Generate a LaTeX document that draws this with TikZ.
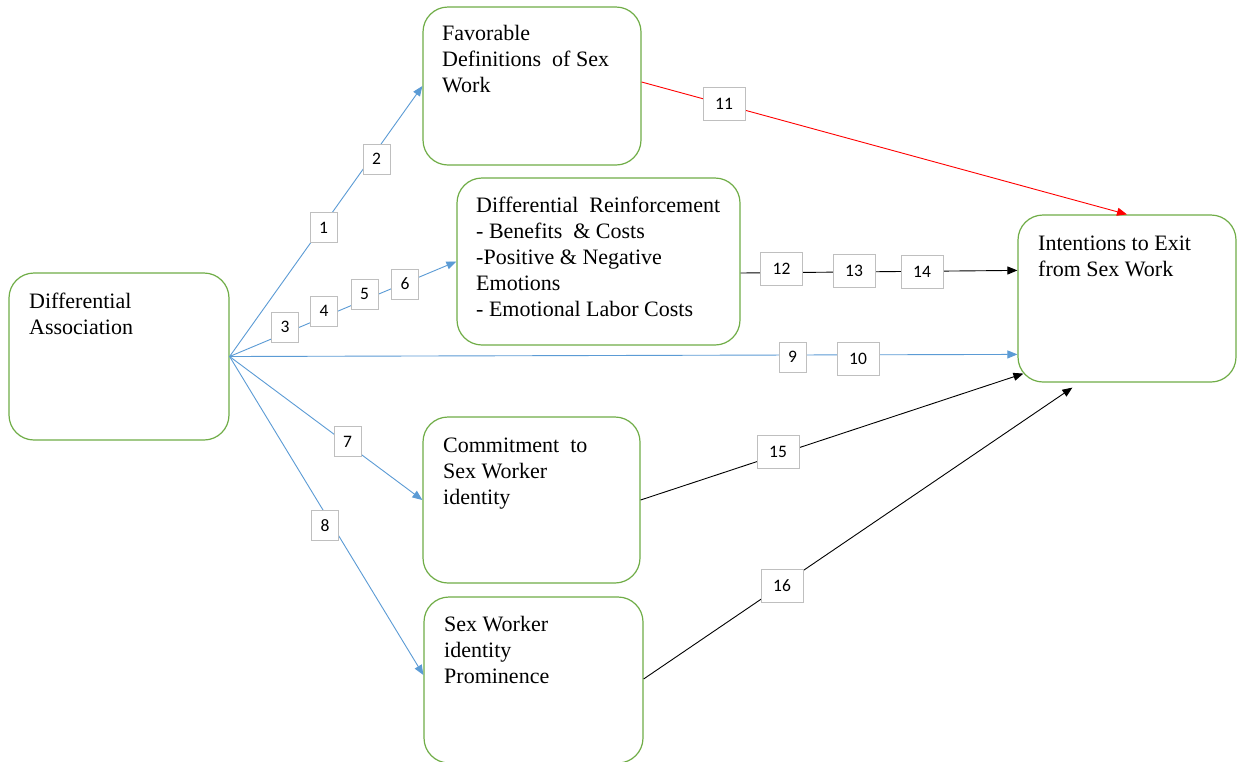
\documentclass[tikz,border=0pt]{standalone}
\usepackage{fontspec}
\setmainfont{Liberation Serif}
\newfontfamily\labfont{Carlito}
\usetikzlibrary{arrows.meta,calc}
\definecolor{boxgreen}{RGB}{112,173,71}
\definecolor{lineblue}{RGB}{91,155,213}
\definecolor{labgray}{RGB}{191,191,191}
\begin{document}
\begin{tikzpicture}[x=1pt,y=-1pt,
  box/.style={draw=boxgreen, line width=1.2pt, rounded corners=25pt, fill=white, inner sep=0pt},
  txt/.style={anchor=north west, inner sep=0pt, align=left, font=\rmfamily\fontsize{22}{26}\selectfont},
  lab/.style={draw=labgray, line width=1pt, fill=white, inner sep=0pt, minimum width=27pt, minimum height=30pt, font=\labfont\fontsize{17.5}{18}\selectfont},
  labw/.style={lab, minimum width=42pt, minimum height=33pt},
  conn/.style={line width=0.9pt, -{Triangle[length=10pt,width=8pt]}}]
\useasboundingbox[fill=white] (0,0) rectangle (1245,761);

% boxes
\node[box, minimum width=220pt, minimum height=167pt] (da) at (119,356.5) {};
\node[box, minimum width=218pt, minimum height=158pt] (fd) at (532,86) {};
\node[box, minimum width=283pt, minimum height=167pt] (dr) at (598.5,261.5) {};
\node[box, minimum width=218pt, minimum height=167pt] (ie) at (1127,298.5) {};
\node[box, minimum width=217pt, minimum height=166pt] (cs) at (531.5,500) {};
\node[box, minimum width=219pt, minimum height=166pt] (sp) at (533.5,680) {};

% texts
\node[txt] (dat) at (29,289.8) {\strut Differential\\Association};
\node[txt] (fdt) at (442,21.8) {\strut Favorable\\Definitions\ \ of Sex\\Work};
\node[txt] (drt) at (476,193.8) {\strut Differential\ \ Reinforcement\\- Benefits\ \ \& Costs\\-Positive \& Negative\\Emotions\\- Emotional\ Labor Costs};
\node[txt] (iet) at (1038,231.8) {\strut Intentions to Exit\\from Sex Work};
\node[txt] (cst) at (443,433.8) {\strut Commitment\ \ to\\Sex Worker\\identity};
\node[txt] (spt) at (444,612.8) {\strut Sex Worker\\identity\\Prominence};

% connectors
\draw[conn, lineblue] (da.east) -- (fd.west);
\draw[conn, lineblue] (da.east) -- (dr.west);
\draw[conn, lineblue] (da.east) -- ($(ie.north west)+(0,140)$);
\draw[conn, lineblue] (da.east) -- (cs.west);
\draw[conn, lineblue] (da.east) -- ($(sp.west)+(0,-5)$);
\draw[conn, red] ($(fd.east)+(0,-4)$) -- (ie.north);
\draw[conn, black] ($(dr.east)+(0,11.5)$) -- ($(ie.north west)+(0,56)$);
\draw[conn, black] (cs.east) -- ($(ie.south west)+(6,-9)$);
\draw[conn, black] ($(sp.east)+(0,-1)$) -- ($(ie.south west)+(55,5)$);

% labels
\node[lab] (l1) at (323.5,227.5) {1};
\node[lab] (l2) at (376.5,159) {2};
\node[lab] (l3) at (285,327) {3};
\node[lab] (l4) at (324,311) {4};
\node[lab] (l5) at (364.5,294) {5};
\node[lab] (l6) at (405,284) {6};
\node[lab] (l7) at (347.5,441.5) {7};
\node[lab] (l8) at (325,525.5) {8};
\node[lab] (l9) at (792.5,357) {9};
\node[labw] (l10) at (858,358.5) {10};
\node[labw] (l11) at (724,104) {11};
\node[labw] (l12) at (781.5,269) {12};
\node[labw] (l13) at (854,271) {13};
\node[labw] (l14) at (922,271.5) {14};
\node[labw] (l15) at (778,451.5) {15};
\node[labw] (l16) at (782,586) {16};
\end{tikzpicture}
\end{document}
